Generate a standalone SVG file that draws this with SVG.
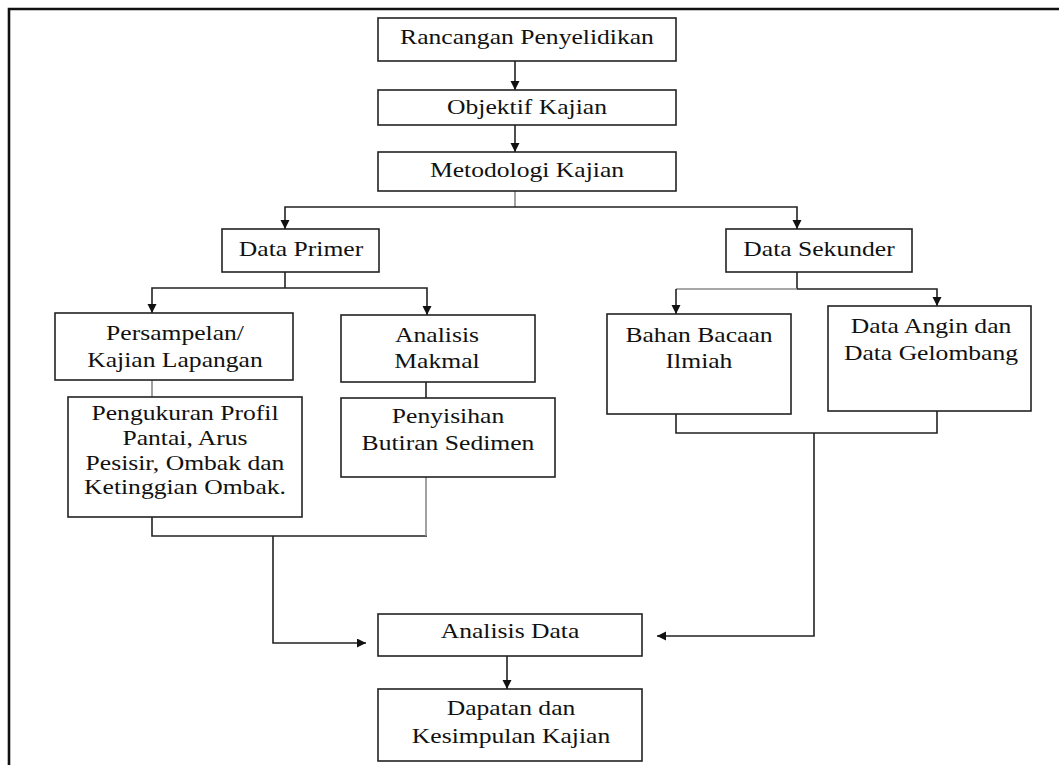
<svg xmlns="http://www.w3.org/2000/svg" width="1059" height="765" viewBox="0 0 1059 765">
<style>
.bg{fill:#fff}
.box{fill:#fff;stroke:#222;stroke-width:1.6}
.c{fill:none;stroke:#222;stroke-width:1.6}
.g{fill:none;stroke:#8a8a8a;stroke-width:1.6}
.frame{fill:none;stroke:#111;stroke-width:2.6}
.t{font-family:"Liberation Serif","Times New Roman",serif;font-size:21px;fill:#111;text-anchor:middle}
</style>
<defs>
<marker id="ah" markerUnits="userSpaceOnUse" markerWidth="10" markerHeight="10" refX="9" refY="4.5" orient="auto">
<path d="M0,0 L9,4.5 L0,9 z" fill="#111"/>
</marker>
</defs>
<rect class="bg" x="0" y="0" width="1059" height="765"/>
<path class="frame" d="M9,765 V9 H1059"/>

<g id="connectors">
<path class="c" d="M515,61 V90" marker-end="url(#ah)"/>
<path class="c" d="M515,125 V152" marker-end="url(#ah)"/>
<path class="g" d="M515,191 V207"/>
<path class="c" d="M515,207 H285 V229" marker-end="url(#ah)"/>
<path class="c" d="M515,207 H797 V229" marker-end="url(#ah)"/>
<path class="c" d="M285,272 V288"/>
<path class="c" d="M285,288 H152 V313" marker-end="url(#ah)"/>
<path class="c" d="M285,288 H427 V315" marker-end="url(#ah)"/>
<path class="c" d="M797,272 V289"/>
<path class="g" d="M797,289 H676"/>
<path class="c" d="M676,289 V314" marker-end="url(#ah)"/>
<path class="c" d="M797,289 H937 V306" marker-end="url(#ah)"/>
<path class="g" d="M152,380 V397"/>
<path class="c" d="M426,382 V398"/>
<path class="c" d="M152,517 V536 H427"/>
<path class="g" d="M426,477 V536"/>
<path class="c" d="M273,536 V643 H366" marker-end="url(#ah)"/>
<path class="c" d="M676,414 V433 H937 V411"/>
<path class="c" d="M814,433 V636 H657" marker-end="url(#ah)"/>
<path class="c" d="M507,656 V689" marker-end="url(#ah)"/>
</g>

<g id="n1"><rect class="box" x="378" y="18" width="298" height="43"/>
<text class="t" transform="matrix(1.22 0 0 1 527 44)">Rancangan Penyelidikan</text></g>

<g id="n2"><rect class="box" x="378" y="90" width="298" height="35"/>
<text class="t" transform="matrix(1.22 0 0 1 527 114)">Objektif Kajian</text></g>

<g id="n3"><rect class="box" x="378" y="152" width="298" height="39"/>
<text class="t" transform="matrix(1.22 0 0 1 527 177)">Metodologi Kajian</text></g>

<g id="n4"><rect class="box" x="222" y="229" width="157" height="43"/>
<text class="t" transform="matrix(1.22 0 0 1 301 256)">Data Primer</text></g>

<g id="n5"><rect class="box" x="726" y="229" width="186" height="43"/>
<text class="t" transform="matrix(1.22 0 0 1 819 256)">Data Sekunder</text></g>

<g id="n6"><rect class="box" x="55" y="313" width="238" height="67"/>
<text class="t" transform="matrix(1.22 0 0 1 175 340)"><tspan x="0" y="0">Persampelan/</tspan><tspan x="0" y="27">Kajian Lapangan</tspan></text></g>

<g id="n7"><rect class="box" x="341" y="315" width="194" height="67"/>
<text class="t" transform="matrix(1.22 0 0 1 437 342)"><tspan x="0" y="0">Analisis</tspan><tspan x="0" y="26">Makmal</tspan></text></g>

<g id="n8"><rect class="box" x="68" y="397" width="234" height="120"/>
<text class="t" transform="matrix(1.22 0 0 1 185 420)"><tspan x="0" y="0">Pengukuran Profil</tspan><tspan x="0" y="25">Pantai, Arus</tspan><tspan x="0" y="50">Pesisir, Ombak dan</tspan><tspan x="0" y="74">Ketinggian Ombak.</tspan></text></g>

<g id="n9"><rect class="box" x="341" y="398" width="214" height="79"/>
<text class="t" transform="matrix(1.22 0 0 1 448 423)"><tspan x="0" y="0">Penyisihan</tspan><tspan x="0" y="27">Butiran Sedimen</tspan></text></g>

<g id="n10"><rect class="box" x="607" y="314" width="184" height="100"/>
<text class="t" transform="matrix(1.22 0 0 1 699 342)"><tspan x="0" y="0">Bahan Bacaan</tspan><tspan x="0" y="26">Ilmiah</tspan></text></g>

<g id="n11"><rect class="box" x="828" y="306" width="203" height="105"/>
<text class="t" transform="matrix(1.22 0 0 1 931 333)"><tspan x="0" y="0">Data Angin dan</tspan><tspan x="0" y="27">Data Gelombang</tspan></text></g>

<g id="n12"><rect class="box" x="378" y="614" width="264" height="42"/>
<text class="t" transform="matrix(1.22 0 0 1 510 638)">Analisis Data</text></g>

<g id="n13"><rect class="box" x="378" y="689" width="264" height="72"/>
<text class="t" transform="matrix(1.22 0 0 1 511 715)"><tspan x="0" y="0">Dapatan dan</tspan><tspan x="0" y="28">Kesimpulan Kajian</tspan></text></g>
</svg>
